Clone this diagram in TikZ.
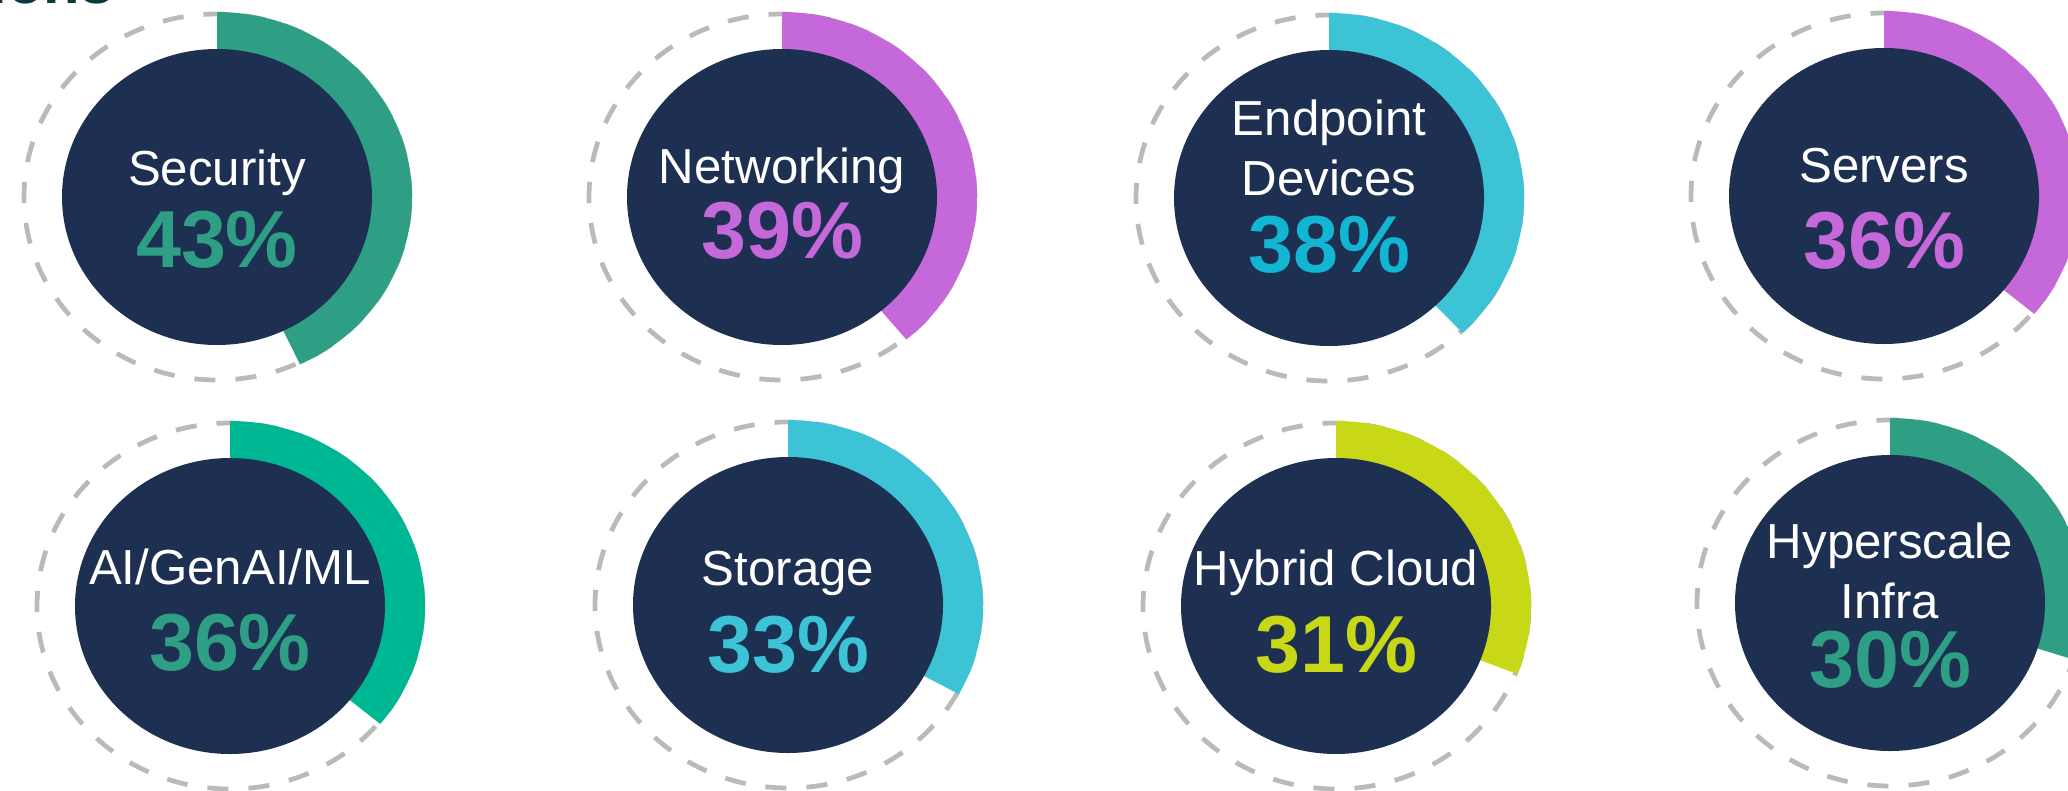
\documentclass[tikz,border=0pt]{standalone}
\usepackage{fontspec}
\setmainfont{Liberation Sans}
\usetikzlibrary{positioning}
\definecolor{navy}{RGB}{30,48,82}
\definecolor{ringgray}{RGB}{186,186,186}
\definecolor{titleteal}{RGB}{12,59,62}
\definecolor{gaugeteal}{RGB}{46,158,133}
\definecolor{gaugegreen}{RGB}{0,183,148}
\definecolor{gaugepurple}{RGB}{197,104,217}
\definecolor{gaugecyan}{RGB}{60,196,214}
\definecolor{deepcyan}{RGB}{18,182,210}
\definecolor{gaugelime}{RGB}{200,216,22}
\tikzset{
    ring/.style={draw=ringgray, line width=1.35pt, dash pattern=on 6pt off 5.7pt},
    disc/.style={fill=navy},
    lbl/.style={text=white, font=\fontsize{14}{17}\selectfont, align=center, anchor=base, inner sep=0pt},
    pct/.style={font=\fontsize{23}{27}\selectfont\bfseries, anchor=base, inner sep=0pt}
}

\begin{document}
\begin{tikzpicture}
    \useasboundingbox (0,0) rectangle (20.68,7.90);
    % Cut-off heading
    \node[text=titleteal, font=\fontsize{17}{20}\selectfont\bfseries, anchor=base west, inner sep=0pt] (head) at (-0.10,7.87) {ions};
    % Security
    \coordinate (sec) at (2.17,5.93);
    \draw[ring] (sec) ellipse (1.93 and 1.83);
    \fill[gaugeteal] (sec) -- ++(0,1.85) arc[start angle=90, delta angle=-154.8, x radius=1.95, y radius=1.85] -- cycle;
    \fill[disc] (sec) ellipse (1.55 and 1.48);
    \node[lbl] (secL) at ([yshift=0.12cm]sec) {Security};
    \node[pct, text=gaugeteal] (secP) at ([yshift=-0.70cm]sec) {43\%};
    % Networking
    \coordinate (net) at (7.82,5.93);
    \draw[ring] (net) ellipse (1.93 and 1.83);
    \fill[gaugepurple] (net) -- ++(0,1.85) arc[start angle=90, delta angle=-140.4, x radius=1.95, y radius=1.85] -- cycle;
    \fill[disc] (net) ellipse (1.55 and 1.48);
    \node[lbl] (netL) at ([yshift=0.14cm]net) {Networking};
    \node[pct, text=gaugepurple] (netP) at ([yshift=-0.61cm]net) {39\%};
    % Endpoint devices
    \coordinate (endp) at (13.29,5.92);
    \draw[ring] (endp) ellipse (1.93 and 1.83);
    \fill[gaugecyan] (endp) -- ++(0,1.85) arc[start angle=90, delta angle=-136.8, x radius=1.95, y radius=1.85] -- cycle;
    \fill[disc] (endp) ellipse (1.55 and 1.48);
    \node[lbl] (endpL) at ([yshift=0.03cm]endp) {Endpoint\\Devices};
    \node[pct, text=deepcyan] (endpP) at ([yshift=-0.74cm]endp) {38\%};
    % Servers
    \coordinate (srv) at (18.84,5.94);
    \draw[ring] (srv) ellipse (1.93 and 1.83);
    \fill[gaugepurple] (srv) -- ++(0,1.85) arc[start angle=90, delta angle=-129.6, x radius=1.95, y radius=1.85] -- cycle;
    \fill[disc] (srv) ellipse (1.55 and 1.48);
    \node[lbl] (srvL) at ([yshift=0.14cm]srv) {Servers};
    \node[pct, text=gaugepurple] (srvP) at ([yshift=-0.72cm]srv) {36\%};
    % AI/GenAI/ML
    \coordinate (ai) at (2.30,1.84);
    \draw[ring] (ai) ellipse (1.93 and 1.83);
    \fill[gaugegreen] (ai) -- ++(0,1.85) arc[start angle=90, delta angle=-129.6, x radius=1.95, y radius=1.85] -- cycle;
    \fill[disc] (ai) ellipse (1.55 and 1.48);
    \node[lbl] (aiL) at ([yshift=0.22cm]ai) {AI/GenAI/ML};
    \node[pct, text=gaugeteal] (aiP) at ([yshift=-0.64cm]ai) {36\%};
    % Storage
    \coordinate (sto) at (7.88,1.85);
    \draw[ring] (sto) ellipse (1.93 and 1.83);
    \fill[gaugecyan] (sto) -- ++(0,1.85) arc[start angle=90, delta angle=-118.8, x radius=1.95, y radius=1.85] -- cycle;
    \fill[disc] (sto) ellipse (1.55 and 1.48);
    \node[lbl] (stoL) at ([yshift=0.20cm]sto) {Storage};
    \node[pct, text=gaugecyan] (stoP) at ([yshift=-0.67cm]sto) {33\%};
    % Hybrid cloud
    \coordinate (hyb) at (13.36,1.84);
    \draw[ring] (hyb) ellipse (1.93 and 1.83);
    \fill[gaugelime] (hyb) -- ++(0,1.85) arc[start angle=90, delta angle=-111.6, x radius=1.95, y radius=1.85] -- cycle;
    \fill[disc] (hyb) ellipse (1.55 and 1.48);
    \node[lbl] (hybL) at ([yshift=0.21cm]hyb) {Hybrid Cloud};
    \node[pct, text=gaugelime] (hybP) at ([yshift=-0.66cm]hyb) {31\%};
    % Hyperscale infra
    \coordinate (hyp) at (18.90,1.87);
    \draw[ring] (hyp) ellipse (1.93 and 1.83);
    \fill[gaugeteal] (hyp) -- ++(0,1.85) arc[start angle=90, delta angle=-108, x radius=1.95, y radius=1.85] -- cycle;
    \fill[disc] (hyp) ellipse (1.55 and 1.48);
    \node[lbl] (hypL) at ([yshift=-0.15cm]hyp) {Hyperscale\\Infra};
    \node[pct, text=gaugeteal] (hypP) at ([yshift=-0.84cm]hyp) {30\%};
\end{tikzpicture}
\end{document}
